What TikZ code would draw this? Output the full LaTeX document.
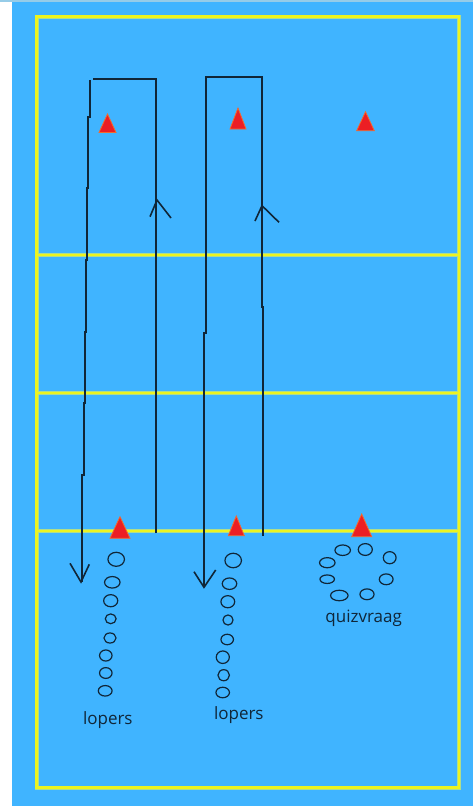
\documentclass[tikz,border=0pt]{standalone}
\usepackage{fontspec}
\setmainfont{Open Sans}
\usetikzlibrary{shapes.geometric}
\definecolor{fieldblue}{RGB}{64,180,255}
\definecolor{fieldyellow}{RGB}{236,244,32}
\definecolor{fieldglow}{RGB}{176,222,140}
\definecolor{mydark}{RGB}{16,38,56}
\definecolor{conered}{RGB}{236,30,36}
\definecolor{coneedge}{RGB}{244,104,44}
\definecolor{topstrip}{RGB}{150,204,232}
\tikzset{
  fieldline/.style={draw=fieldglow, line width=4pt,
    postaction={draw=fieldyellow, line width=2.2pt}},
  runpath/.style={draw=mydark, line width=1.6pt},
  player/.style={ellipse, draw=mydark, line width=1.2pt, inner sep=0pt},
  tag/.style={font=\fontsize{17}{20}\selectfont, text=mydark,
    anchor=base, inner sep=0pt},
  pics/cone/.style 2 args={code={
    \filldraw[fill=conered, draw=coneedge, line width=0.8pt]
      (-#1,#2) -- (0,0) -- (#1,#2) -- cycle;}}
}

\begin{document}
\begin{tikzpicture}[x=1pt, y=-1pt]
  \useasboundingbox (0,0) rectangle (473,806);
  \fill[white] (0,0) rectangle (12,806);
  \fill[fieldblue] (12,0) rectangle (473,806);
  \fill[topstrip] (0,0) rectangle (473,1.5);

  % field and zones
  \draw[fieldline] (36.5,16.5) rectangle (459,787.5)
    (36.5,255) -- (459,255) (36.5,393) -- (459,393) (36.5,531) -- (459,531);

  % runs, lane 1
  \draw[runpath] (156,533) -- (156,79) -- (93,79);
  \draw[runpath] (90,80) -- (90,117) -- (88,117) -- (88,188) -- (87,188)
    -- (87,260) -- (86,260) -- (86,332) -- (85,332) -- (85,403)
    -- (84,403) -- (84,475) -- (82,475) -- (82,582);
  \draw[runpath] (150,216.7) -- (157,200) -- (171,218);
  \draw[runpath] (70,563.3) -- (81,582) -- (89.3,564.3);

  % runs, lane 2
  \draw[runpath] (263,536) -- (263,307) -- (262,307) -- (262,77)
    -- (206,77) -- (206,333) -- (204,333) -- (204,587);
  \draw[runpath] (255,221) -- (262,205.7) -- (279,222.3);
  \draw[runpath] (194,571.7) -- (204,587.3) -- (215.7,570);

  % cones
  \pic (conea) at (107.5,114) {cone={8.5}{18.5}};
  \pic (coneb) at (238,108) {cone={8}{21}};
  \pic (conec) at (365.5,111.7) {cone={8.8}{19}};
  \pic (coned) at (120,516.7) {cone={10}{21.6}};
  \pic (conee) at (236.3,516) {cone={8}{19.7}};
  \pic (conef) at (361.7,514) {cone={10}{22.7}};

  % players
  \foreach \px/\py/\pw/\ph [count=\i] in {116.2/559.3/16.5/14, 112.3/582.3/15.5/11.5,
      110.7/600.7/14.1/12.1, 110.7/618.8/10.8/9.8, 110/638/12.1/10.1,
      105.8/655.5/12.5/11.1, 105.8/673/12.5/10.8, 105.2/690.8/13.8/10.5}
    \node[player, minimum width=\pw pt, minimum height=\ph pt] (lopa\i) at (\px,\py) {};
  \foreach \px/\py/\pw/\ph [count=\i] in {233.2/560.5/16.5/14.5, 229.5/583.7/14.5/11.5,
      227.8/601.7/13.8/12.1, 228/620/10.1/10.1, 227.2/639.5/12.5/10.5,
      222.8/657.2/13.1/12.5, 223.7/675.2/11.5/11.1, 222.7/692.5/13.5/10.5}
    \node[player, minimum width=\pw pt, minimum height=\ph pt] (lopb\i) at (\px,\py) {};
  \foreach \px/\py/\pw/\ph [count=\i] in {342.7/550.2/15.5/10.5, 365.3/549.5/14.1/11.8,
      389.7/557.7/12.8/12.1, 327.3/562.7/15.5/10.1, 327.2/579.2/14.5/8.5,
      386.2/579.3/13.8/10.8, 339.3/595.5/17.5/10.5, 367/594.3/14.1/10.8}
    \node[player, minimum width=\pw pt, minimum height=\ph pt] (quiz\i) at (\px,\py) {};

  % labels
  \node[tag] (lopersa) at (107.8,724) {lopers};
  \node[tag] (lopersb) at (238.8,719.3) {lopers};
  \node[tag] (quizlabel) at (363.7,622.5) {quizvraag};
\end{tikzpicture}
\end{document}
